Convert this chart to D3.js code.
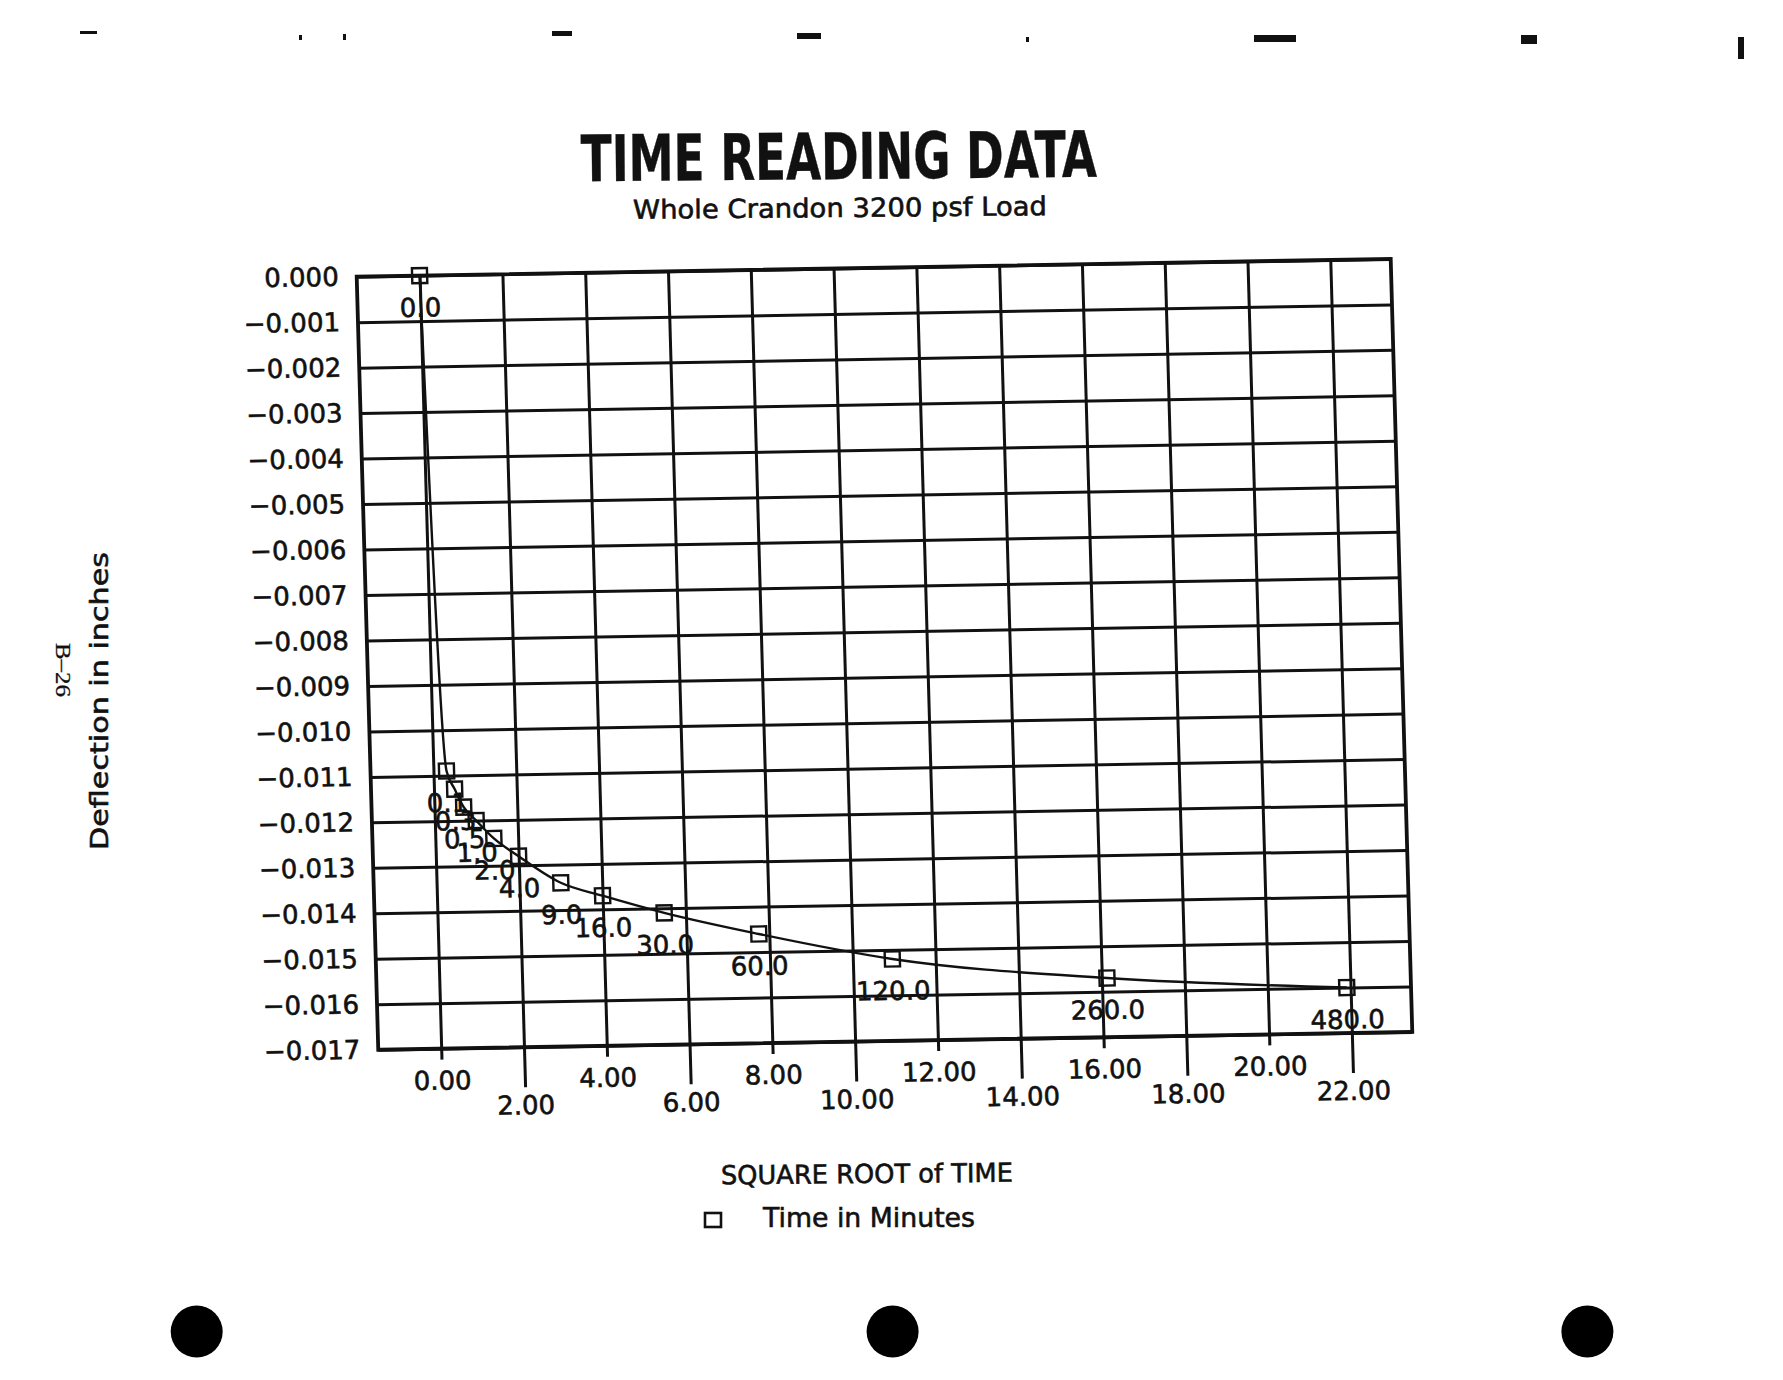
<!DOCTYPE html>
<html>
<head>
<meta charset="utf-8">
<script src="https://cdn.jsdelivr.net/npm/d3@7"></script>
<style>
  body { margin: 0; background: #fff; }
  text { font-family: "DejaVu Sans", sans-serif; fill: #111; stroke: #111; stroke-width: 0.6px; }
</style>
</head>
<body>
<div class="chart"></div>
<script>
// readings: elapsed time (minutes) and dial deflection (inches)
var minutes = [0, 0.1, 0.25, 0.5, 1, 2, 4, 9, 16, 30, 60, 120, 260, 480];
var deflection = [0, -0.0109, -0.0113, -0.0117, -0.0120, -0.0124, -0.0128, -0.0134,
                  -0.0137, -0.0141, -0.0146, -0.0152, -0.0157, -0.0160];

var xTicks = [0, 2, 4, 6, 8, 10, 12, 14, 16, 18, 20, 22];
var yTicks = [0, -0.001, -0.002, -0.003, -0.004, -0.005, -0.006, -0.007, -0.008,
              -0.009, -0.010, -0.011, -0.012, -0.013, -0.014, -0.015, -0.016, -0.017];

var width = 1783, height = 1380;
var W = 1034, H = 773;

var svg = d3.select(".chart").append("svg")
    .attr("width", width)
    .attr("height", height);

svg.append("rect").attr("width", width).attr("height", height).attr("fill", "#fff");

// scanned page is a little skewed, so the plot sits in a sheared frame
var plot = svg.append("g")
    .attr("transform", "matrix(1,-0.0172,0.0279,1,356.7,276.7)");

var x = d3.scaleLinear().domain([-1.52, 23.46]).range([0, W]);
var y = d3.scaleLinear().domain([-0.017, 0]).range([H, 0]);

var data = minutes.map(function(m, i){
  return {t: m, rt: Math.sqrt(m), d: deflection[i]};
});

// horizontal grid + y labels
var yAxis = plot.append("g")
    .attr("class", "y-axis")
    .call(d3.axisLeft(y).tickValues(yTicks).tickSize(-W).tickPadding(18).tickFormat(d3.format(".3f")));
yAxis.select(".domain").remove();
yAxis.selectAll("line").attr("stroke", "#111").attr("stroke-width", 3);
yAxis.selectAll("text")
    .style("font-size", "26px")
    .style("font-family", "DejaVu Sans, sans-serif")
    .attr("fill", "#111");

// vertical grid, alternating tick stubs and labels below
var xAxis = plot.append("g")
    .attr("class", "x-axis")
    .attr("transform", "translate(0," + H + ")")
    .call(d3.axisBottom(x).tickValues(xTicks).tickSize(0).tickFormat(d3.format(".2f")));
xAxis.select(".domain").remove();
xAxis.selectAll(".tick line")
    .attr("y1", -H)
    .attr("y2", function(d, i){ return i % 2 ? 40 : 11; })
    .attr("stroke", "#111")
    .attr("stroke-width", 3);
xAxis.selectAll(".tick text")
    .attr("y", function(d, i){ return i % 2 ? 67 : 41; })
    .attr("dy", 0)
    .style("font-size", "26px")
    .style("font-family", "DejaVu Sans, sans-serif")
    .attr("fill", "#111");

plot.append("rect")
    .attr("width", W)
    .attr("height", H)
    .attr("fill", "none")
    .attr("stroke", "#111")
    .attr("stroke-width", 3.8);

// point labels
plot.selectAll(".pt-label")
    .data(data)
  .enter().append("text")
    .attr("class", "pt-label")
    .attr("x", function(d){ return x(d.rt); })
    .attr("y", function(d){ return y(d.d) + 41; })
    .attr("text-anchor", "middle")
    .style("font-size", "26px")
    .text(function(d){ return d3.format(".1f")(d.t); });

var line = d3.line()
    .x(function(d){ return x(d.rt); })
    .y(function(d){ return y(d.d); })
    .curve(d3.curveMonotoneX);

plot.append("path")
    .datum(data)
    .attr("d", line)
    .attr("fill", "none")
    .attr("stroke", "#111")
    .attr("stroke-width", 2.4);

var s = 15;
plot.selectAll(".pt")
    .data(data)
  .enter().append("rect")
    .attr("class", "pt")
    .attr("x", function(d){ return x(d.rt) - s / 2; })
    .attr("y", function(d){ return y(d.d) - s / 2; })
    .attr("width", s)
    .attr("height", s)
    .attr("fill", "none")
    .attr("stroke", "#111")
    .attr("stroke-width", 2.4);

// titles
svg.append("text")
    .attr("transform", "translate(839,179) rotate(-0.5)")
    .attr("text-anchor", "middle")
    .attr("textLength", 516)
    .attr("lengthAdjust", "spacingAndGlyphs")
    .style("font-family", "'Liberation Sans Narrow', 'DejaVu Sans Condensed', 'Liberation Sans', sans-serif")
    .style("font-weight", "bold")
    .style("stroke-width", "0.4px")
    .style("font-size", "64px")
    .text("TIME READING DATA");

svg.append("text")
    .attr("transform", "translate(840,217) rotate(-0.5)")
    .attr("text-anchor", "middle")
    .attr("textLength", 414)
    .attr("lengthAdjust", "spacingAndGlyphs")
    .style("font-size", "26px")
    .text("Whole Crandon 3200 psf Load");

svg.append("text")
    .attr("transform", "translate(867,1183) rotate(-0.5)")
    .attr("text-anchor", "middle")
    .attr("textLength", 292)
    .attr("lengthAdjust", "spacingAndGlyphs")
    .style("font-size", "26px")
    .text("SQUARE ROOT of TIME");

svg.append("text")
    .attr("transform", "translate(108,701) rotate(-90)")
    .attr("text-anchor", "middle")
    .attr("textLength", 298)
    .attr("lengthAdjust", "spacingAndGlyphs")
    .style("font-size", "25px")
    .text("Deflection in inches");

svg.append("text")
    .attr("transform", "translate(56,670) rotate(90)")
    .attr("text-anchor", "middle")
    .attr("textLength", 54)
    .attr("lengthAdjust", "spacingAndGlyphs")
    .style("font-family", "'Liberation Serif', serif")
    .style("stroke-width", "0.3px")
    .style("font-size", "22px")
    .text("B\u201326");

// legend
var legend = svg.append("g").attr("transform", "translate(705,1213)");
legend.append("rect")
    .attr("width", 16)
    .attr("height", 14)
    .attr("fill", "none")
    .attr("stroke", "#111")
    .attr("stroke-width", 2.6);
legend.append("text")
    .attr("x", 58)
    .attr("y", 14)
    .attr("textLength", 212)
    .attr("lengthAdjust", "spacingAndGlyphs")
    .style("font-size", "27px")
    .text("Time in Minutes");

// binder holes and specks from the scan
var holes = [[196.7, 1331.6], [892.6, 1331.6], [1587.4, 1331.6]];
svg.selectAll(".hole")
    .data(holes)
  .enter().append("circle")
    .attr("class", "hole")
    .attr("cx", function(d){ return d[0]; })
    .attr("cy", function(d){ return d[1]; })
    .attr("r", 26)
    .attr("fill", "#000");

var specks = [[80, 31, 17, 3], [299, 35, 3, 5], [343, 34, 3, 6], [552, 31, 20, 5],
              [797, 33, 24, 6], [1026, 37, 3, 5], [1254, 35, 42, 7], [1521, 35, 16, 9],
              [1738, 37, 6, 22]];
svg.selectAll(".speck")
    .data(specks)
  .enter().append("rect")
    .attr("class", "speck")
    .attr("x", function(d){ return d[0]; })
    .attr("y", function(d){ return d[1]; })
    .attr("width", function(d){ return d[2]; })
    .attr("height", function(d){ return d[3]; })
    .attr("fill", "#111");
</script>
</body>
</html>
